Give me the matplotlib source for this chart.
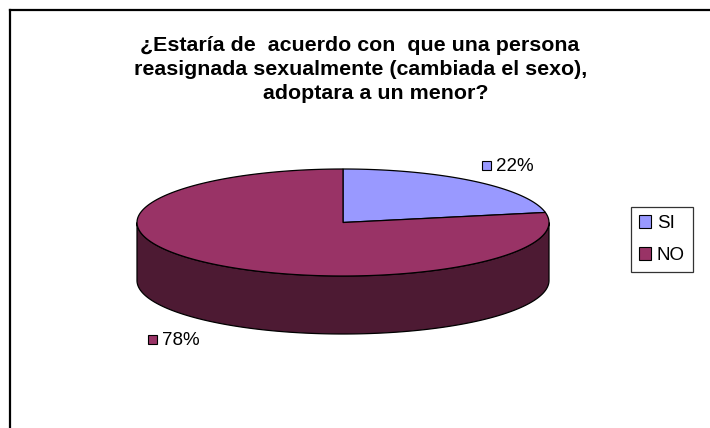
import numpy as np
import matplotlib
matplotlib.use("Agg")
import matplotlib.pyplot as plt
from matplotlib.patches import Polygon, Patch

# ---- data ----
categories = ["SI", "NO"]
values = [22, 78]
labels = ["22%", "78%"]
colors = ["#9999FF", "#993366"]
side_colors = ["#4D1A33", "#4D1A33"]
title_lines = ["¿Estaría de  acuerdo con  que una persona",
               "reasignada sexualmente (cambiada el sexo),",
               "adoptara a un menor?"]

plt.rcParams['font.family'] = ['Liberation Sans', 'DejaVu Sans']

W, H = 710, 428
fig = plt.figure(figsize=(W / 100, H / 100), dpi=100)
ax = fig.add_axes([0, 0, 1, 1])
ax.set_xlim(0, W)
ax.set_ylim(H, 0)
ax.axis('off')

# frame (only top and left visible)
ax.plot([10, 10], [H + 5, 10], color='black', lw=1.6, solid_capstyle='projecting')
ax.plot([10, W + 5], [10, 10], color='black', lw=1.6, solid_capstyle='projecting')

# title
title_pos = [(360, 51), (361, 75), (376, 99)]
for line, (x, y) in zip(title_lines, title_pos):
    ax.text(x, y, line, ha='center', va='baseline', fontsize=15.4,
            fontweight='bold', color='black')

# 3D pie geometry
cx, cy = 343, 222.5
a, b = 206, 53.5
depth = 58

def pt(t, dy=0):
    return (cx + a * np.cos(t), cy - b * np.sin(t) + dy)

total = sum(values)
start = np.deg2rad(90)
angles = []
for v in values:
    ext = 2 * np.pi * v / total
    angles.append((start, start - ext))
    start -= ext

# side faces (front half: t in [-pi, 0])
for (t0, t1), sc in zip(angles, side_colors):
    lo, hi = min(t0, t1), max(t0, t1)
    for off in (-2 * np.pi, 0, 2 * np.pi):
        s = max(lo + off, -np.pi)
        e = min(hi + off, 0)
        if e > s:
            ts = np.linspace(s, e, 200)
            top = [pt(t) for t in ts]
            bot = [pt(t, depth) for t in ts[::-1]]
            ax.add_patch(Polygon(top + bot, closed=True, facecolor=sc,
                                 edgecolor='black', lw=0.9, zorder=2))

# top faces
for (t0, t1), c in zip(angles, colors):
    ts = np.linspace(t0, t1, 300)
    poly = [(cx, cy)] + [pt(t) for t in ts]
    ax.add_patch(Polygon(poly, closed=True, facecolor=c, edgecolor='black',
                         lw=0.9, zorder=3))

# data labels with small colour keys
label_pos = [(482, 165), (148, 339)]
for lab, c, (x, y) in zip(labels, colors, label_pos):
    ax.add_patch(plt.Rectangle((x, y - 4.5), 9, 9, facecolor=c,
                               edgecolor='black', lw=0.8, zorder=4))
    ax.text(x + 14, y + 6, lab, fontsize=13.5, va='baseline', ha='left')

# legend
handles = [Patch(facecolor=c, edgecolor='black', lw=0.8, label=cat)
           for c, cat in zip(colors, categories)]
leg = ax.legend(handles=handles, loc='upper left',
                bbox_to_anchor=(631 / W, 1 - 207 / H),
                bbox_transform=fig.transFigure, frameon=True, fancybox=False,
                edgecolor='black', fontsize=13.5, handlelength=0.65,
                handleheight=0.65, handletextpad=0.3, labelspacing=0.8,
                borderpad=0.42, borderaxespad=0)
leg.get_frame().set_linewidth(0.9)

fig.savefig("out.png", dpi=100)
